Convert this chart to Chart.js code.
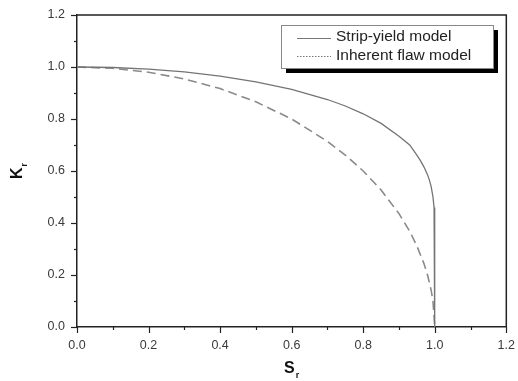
<!DOCTYPE html>
<html>
<head>
<meta charset="utf-8">
<script src="https://cdn.jsdelivr.net/npm/chart.js@4/dist/chart.umd.min.js"></script>
<style>
  html, body { margin: 0; padding: 0; background: #fff; }
  #wrap { width: 518px; height: 381px; }
</style>
</head>
<body>
<div id="wrap"><canvas id="chart" width="518" height="381"></canvas></div>
<script>
// values
const stripSr = [0, 0.1, 0.2, 0.3, 0.4, 0.5, 0.6, 0.7, 0.75, 0.8, 0.85, 0.9, 0.93, 0.95, 0.96, 0.97, 0.98, 0.985, 0.99, 0.995, 0.998, 0.9995, 1.0, 1.0];
const stripKr = [1.0, 0.998, 0.992, 0.981, 0.965, 0.943, 0.914, 0.875, 0.85, 0.82, 0.783, 0.734, 0.70, 0.661, 0.64, 0.615, 0.585, 0.565, 0.54, 0.50, 0.46, 0.41, 0.34, 0.0];

const flawSr = [0, 0.1, 0.2, 0.3, 0.4, 0.5, 0.6, 0.7, 0.75, 0.8, 0.85, 0.9, 0.93, 0.95, 0.97, 0.98, 0.99, 0.995, 1.0];
const flawKr = [1.0, 0.995, 0.98, 0.954, 0.917, 0.866, 0.8, 0.714, 0.661, 0.6, 0.527, 0.436, 0.368, 0.312, 0.243, 0.199, 0.141, 0.1, 0.0];

const legendLabels = ["Strip-yield model", "Inherent flaw model"];
const xTitle = ["S", "r"];
const yTitle = ["K", "r"];

const FONT = "'Liberation Sans', Arial, sans-serif";

const toPoints = (xs, ys) => xs.map((x, i) => ({ x, y: ys[i] }));

/* ---- frame, minor ticks, titles, legend ---- */
const decor = {
  id: "decor",
  afterDraw(chart) {
    const ctx = chart.ctx;
    const { left, right, top, bottom } = chart.chartArea;
    const xs = chart.scales.x, ys = chart.scales.y;
    ctx.save();

    // top + right frame
    ctx.strokeStyle = "#222";
    ctx.lineWidth = 1.5;
    ctx.beginPath();
    ctx.moveTo(left, top); ctx.lineTo(right, top); ctx.lineTo(right, bottom);
    ctx.stroke();

    // ticks (outward)
    ctx.lineWidth = 1.2;
    for (let i = 0; i <= 12; i++) {
      const v = i / 10;
      const len = i % 2 === 0 ? 6 : 3;
      const px = Math.round(xs.getPixelForValue(v)) + 0.5;
      ctx.beginPath(); ctx.moveTo(px, bottom); ctx.lineTo(px, bottom + len); ctx.stroke();
      const py = Math.round(ys.getPixelForValue(v)) + 0.5;
      ctx.beginPath(); ctx.moveTo(left, py); ctx.lineTo(left - len, py); ctx.stroke();
    }

    // axis titles with subscript
    ctx.fillStyle = "#111";
    ctx.textBaseline = "alphabetic";
    ctx.font = "bold 16px " + FONT;
    const sx = 284;
    ctx.fillText(xTitle[0], sx, 373);
    const sw = ctx.measureText(xTitle[0]).width;
    ctx.font = "bold 9px " + FONT;
    ctx.fillText(xTitle[1], sx + sw + 1, 378);

    ctx.translate(22, 179);
    ctx.rotate(-Math.PI / 2);
    ctx.font = "bold 16px " + FONT;
    ctx.fillText(yTitle[0], 0, 0);
    const kw = ctx.measureText(yTitle[0]).width;
    ctx.font = "bold 9px " + FONT;
    ctx.fillText(yTitle[1], kw + 1, 5);
    ctx.setTransform(1, 0, 0, 1, 0, 0);

    // legend box with shadow
    const bx = 281, by = 25, bw = 212, bh = 43;
    ctx.fillStyle = "#000";
    ctx.fillRect(bx + 5, by + 5, bw, bh);
    ctx.fillStyle = "#fff";
    ctx.fillRect(bx, by, bw, bh);
    ctx.strokeStyle = "#888";
    ctx.lineWidth = 1;
    ctx.strokeRect(bx + 0.5, by + 0.5, bw, bh);

    ctx.strokeStyle = "#777";
    ctx.lineWidth = 1.2;
    ctx.beginPath(); ctx.moveTo(297, 38.5); ctx.lineTo(331, 38.5); ctx.stroke();
    ctx.setLineDash([1.5, 1.5]);
    ctx.beginPath(); ctx.moveTo(297, 56.5); ctx.lineTo(331, 56.5); ctx.stroke();
    ctx.setLineDash([]);

    ctx.fillStyle = "#222";
    ctx.font = "15.5px " + FONT;
    ctx.textBaseline = "middle";
    ctx.fillText(legendLabels[0], 336, 37);
    ctx.fillText(legendLabels[1], 336, 56);

    ctx.restore();
  }
};

new Chart(document.getElementById("chart"), {
  type: "scatter",
  data: {
    datasets: [
      {
        label: legendLabels[0],
        data: toPoints(stripSr, stripKr),
        showLine: true,
        borderColor: "#747474",
        borderWidth: 1.3,
        pointRadius: 0,
        tension: 0
      },
      {
        label: legendLabels[1],
        data: toPoints(flawSr, flawKr),
        showLine: true,
        borderColor: "#8a8a8a",
        borderWidth: 1.6,
        borderDash: [9, 5],
        pointRadius: 0,
        tension: 0
      }
    ]
  },
  options: {
    responsive: false,
    animation: false,
    layout: { padding: { top: 15, right: 1, left: 0, bottom: 0 } },
    plugins: { legend: { display: false }, tooltip: { enabled: false } },
    scales: {
      x: {
        type: "linear",
        min: 0, max: 1.2,
        grid: { display: false },
        border: { display: true, color: "#222", width: 1.5 },
        ticks: {
          stepSize: 0.2,
          padding: 3,
          color: "#3a3a3a",
          font: { family: FONT, size: 12.5 },
          callback: v => v.toFixed(1)
        },
        afterFit: s => { s.height = 54; }
      },
      y: {
        type: "linear",
        min: 0, max: 1.2,
        grid: { display: false },
        border: { display: true, color: "#222", width: 1.5 },
        ticks: {
          stepSize: 0.2,
          padding: 4,
          color: "#3a3a3a",
          font: { family: FONT, size: 12.5 },
          callback: v => v.toFixed(1)
        },
        afterFit: s => { s.width = 77; }
      }
    }
  },
  plugins: [decor]
});
</script>
</body>
</html>
